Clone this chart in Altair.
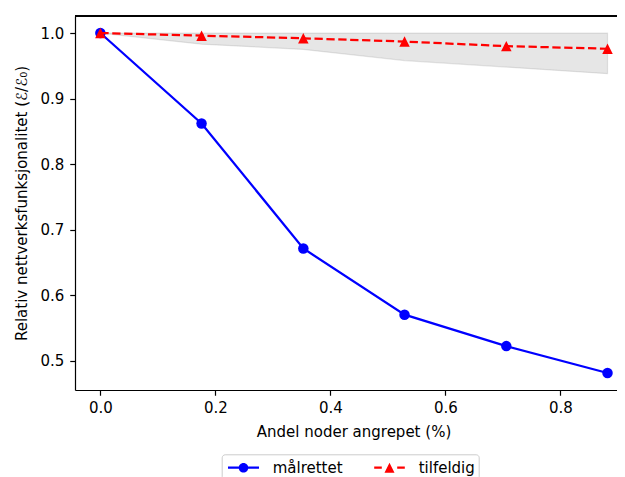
import altair as alt
import pandas as pd

# ---- data ----
frac = [0.0, 0.176, 0.353, 0.529, 0.706, 0.882]
malrettet = [1.0, 0.862, 0.671, 0.570, 0.522, 0.481]
tilfeldig = [1.0, 0.996, 0.992, 0.987, 0.980, 0.976]
band_lo = [1.0, 0.983, 0.975, 0.958, 0.948, 0.938]
band_hi = [1.0, 1.0, 1.0, 1.0, 1.0, 1.0]
series = ["målrettet", "tilfeldig"]
x_ticks = [0.0, 0.2, 0.4, 0.6, 0.8]
y_ticks = [0.5, 0.6, 0.7, 0.8, 0.9, 1.0]
x_title = "Andel noder angrepet (%)"
y_title = "Relativ nettverksfunksjonalitet (ℰ/ℰ₀)"

BLUE = "#0000ff"
RED = "#ff0000"
FONT = "DejaVu Sans"
FS = 15
W, H = 542, 374

df_t = pd.DataFrame({"x": frac, "y": malrettet, "serie": series[0]})
df_r = pd.DataFrame({"x": frac, "y": tilfeldig, "serie": series[1]})
df_band = pd.DataFrame({"x": frac, "lo": band_lo, "hi": band_hi})
df_all = pd.concat([df_t, df_r], ignore_index=True)

xs = alt.Scale(domain=[-0.0441, 0.8985], nice=False, zero=False)
ys = alt.Scale(domain=[0.455, 1.026], nice=False, zero=False)

x_axis = alt.Axis(values=x_ticks, format=".1f", title=x_title, labelPadding=5.5,
                  labelFlush=False, labelOverlap=False,
                  titleX=278.5, titleY=46, titleBaseline="alphabetic")
y_axis = alt.Axis(values=y_ticks, format=".1f", title=y_title, labelPadding=6,
                  labelFlush=False, labelOverlap=False,
                  titleX=-48.3, titleY=187, titleBaseline="alphabetic")

X = alt.X("x:Q", scale=xs, axis=x_axis)
Y = alt.Y("y:Q", scale=ys, axis=y_axis)

TRI = "M0,-1L1,1L-1,1Z"

band = alt.Chart(df_band).mark_area(
    fill="gray", fillOpacity=0.2, stroke="gray", strokeOpacity=0.2, strokeWidth=1.2
).encode(X, alt.Y("lo:Q", scale=ys, axis=y_axis), alt.Y2("hi:Q"))

blue_line = alt.Chart(df_t).mark_line(color=BLUE, strokeWidth=2.25).encode(X, Y)
blue_pts = alt.Chart(df_t).mark_point(shape="circle", filled=True, color=BLUE,
                                      size=110, opacity=1).encode(X, Y)
red_line = alt.Chart(df_r).mark_line(color=RED, strokeWidth=2.25,
                                     strokeDash=[8.3, 3.6]).encode(X, Y)
red_pts = alt.Chart(df_r).mark_point(shape=TRI, filled=True, color=RED,
                                     size=110, opacity=1).encode(X, Y)

# top spine of the frame (right spine lies outside the cropped figure)
top_spine = alt.Chart(df_band).mark_rule(color="black", strokeWidth=1.2).encode(
    x=alt.value(0), x2=alt.value(W), y=alt.value(0)
)

# legend symbols: line + marker, as custom symbol paths
blue_sym = ("M-1.55,-0.11L1.55,-0.11L1.55,0.11L-1.55,0.11Z "
            "M0.48,0A0.48,0.48 0 1,1 -0.48,0A0.48,0.48 0 1,1 0.48,0Z")
red_sym = ("M-1.53,-0.11L-0.77,-0.11L-0.77,0.11L-1.53,0.11Z "
           "M0.77,-0.11L1.53,-0.11L1.53,0.11L0.77,0.11Z "
           "M0,-0.5L0.5,0.5L-0.5,0.5Z")

leg = alt.Legend(
    orient="none", legendX=146.7, legendY=438.3, direction="horizontal", title=None,
    symbolSize=400, symbolStrokeWidth=0, symbolOffset=8.4, labelOffset=19.2,
    columnPadding=28, padding=3.4, strokeColor="#cccccc", fillColor="#ffffff",
    cornerRadius=3, labelFont=FONT, labelFontSize=FS, labelColor="black",
    labelExpr="datum.label + ' '",
)

legend_layer = alt.Chart(df_all).transform_filter("false").mark_point(
    filled=True, opacity=1
).encode(
    X, Y,
    color=alt.Color("serie:N", scale=alt.Scale(domain=series, range=[BLUE, RED]), legend=leg),
    shape=alt.Shape("serie:N", scale=alt.Scale(domain=series, range=[blue_sym, red_sym]), legend=leg),
)

chart = alt.layer(band, blue_line, blue_pts, red_line, red_pts, top_spine, legend_layer).properties(
    width=W, height=H,
    autosize=alt.AutoSizeParams(type="none"),
    padding={"left": 67, "top": 8, "right": 0, "bottom": 100},
).configure_view(
    stroke=None
).configure_axis(
    labelFont=FONT, labelFontSize=FS, labelColor="black",
    titleFont=FONT, titleFontSize=FS, titleFontWeight="normal", titleColor="black",
    tickColor="black", tickWidth=1.2, tickSize=5.25, grid=False,
    domain=True, domainColor="black", domainWidth=1.2,
)

chart.save("out.html", embed_options={"renderer": "svg", "actions": False})
